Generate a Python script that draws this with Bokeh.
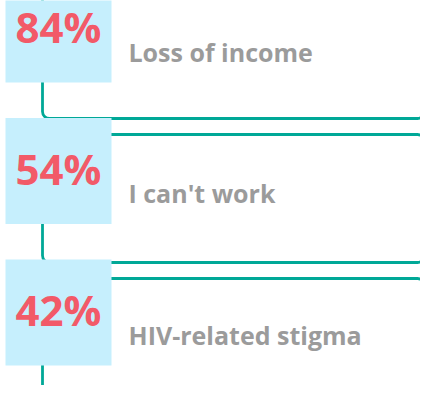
from bokeh.plotting import figure
from bokeh.models import Range1d, ColumnDataSource
from bokeh.core.properties import value
from bokeh.embed import file_html
from bokeh.resources import INLINE

# Data
percents = [84, 54, 42]
labels = ["Loss of income", "I can't work", "HIV-related stigma"]

TEAL = "#00a897"
CYAN = "#c6effd"
RED = "#f25a68"
GRAY = "#9b9b9b"

# Layout constants (pixel coordinates of the reference)
BOX_STEP = 141.5
RECT_STEP = 144
BOX_SIZE = 106

idx = list(range(len(percents)))
box_top = [-24 + BOX_STEP * i for i in idx]
box_bot = [t + BOX_SIZE for t in box_top]
box_mid = [t + BOX_SIZE / 2 - 3 for t in box_top]
lab_y = [t + BOX_SIZE / 2 + 22 for t in box_top]
rect_top = [-10 + RECT_STEP * i for i in idx]
rect_bot = [t + 128 for t in rect_top]

src = ColumnDataSource(dict(
    pct=[f"{v}%" for v in percents],
    label=labels,
    box_top=box_top, box_bot=box_bot, box_mid=box_mid, lab_y=lab_y,
    rect_top=rect_top, rect_bot=rect_bot,
))

W, H = 420, 385
p = figure(width=W, height=H, output_backend="svg", toolbar_location=None,
           x_range=Range1d(0, W), y_range=Range1d(H, 0),
           min_border=0, background_fill_color="white", border_fill_color="white")
p.axis.visible = False
p.grid.visible = False
p.outline_line_color = None

# bracket frames
p.quad(left=42, right=424, top="rect_top", bottom="rect_bot", source=src,
       fill_color=None, line_color=TEAL, line_width=2.8, border_radius=7)

# boxes
p.quad(left=5, right=111, top="box_top", bottom="box_bot", source=src,
       fill_color=CYAN, line_color=None)

# percentages
p.text(x=58, y="box_mid", text="pct", source=src, text_font=value("Open Sans"),
       text_font_style="bold", text_font_size="42px", text_color=RED,
       text_align="center", text_baseline="middle")

# labels
p.text(x=128, y="lab_y", text="label", source=src, text_font=value("Open Sans"),
       text_font_style="bold", text_font_size="25px", text_color=GRAY,
       text_align="left", text_baseline="alphabetic")

open("out.html", "w").write(file_html(p, INLINE))
